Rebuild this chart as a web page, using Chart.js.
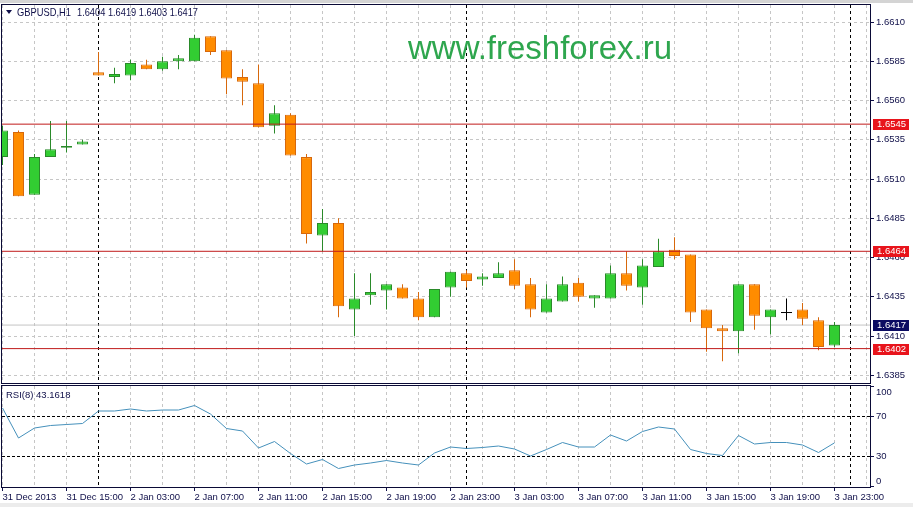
<!DOCTYPE html>
<html>
<head>
<meta charset="utf-8">
<title>GBPUSD,H1</title>
<script src="https://cdn.jsdelivr.net/npm/chart.js@4.4.1/dist/chart.umd.min.js"></script>
<style>
  html, body { margin: 0; padding: 0; background: #fff; }
  #wrap { position: relative; width: 913px; height: 507px; overflow: hidden; background: #fff; }
  #band-top { position: absolute; left: 0; top: 0; width: 913px; height: 3px; background: #d4d4d4; }
  #band-bot { position: absolute; left: 0; top: 503px; width: 913px; height: 4px; background: #ececec; }
  canvas { position: absolute; left: 0; }
  #main { top: 0; }
  #rsi { top: 385px; }
</style>
</head>
<body>
<div id="wrap">
  <div id="band-top"></div>
  <div id="band-bot"></div>
  <canvas id="main" width="913" height="385"></canvas>
  <canvas id="rsi" width="913" height="118"></canvas>
</div>
<script>
/* GBPUSD H1 candles with RSI(8) pane */
const symbol = "GBPUSD,H1";

// one label every 4 bars, first bar shows the date
const xTickLabels = ["31 Dec 2013", "31 Dec 15:00", "2 Jan 03:00", "2 Jan 07:00", "2 Jan 11:00",
  "2 Jan 15:00", "2 Jan 19:00", "2 Jan 23:00", "3 Jan 03:00", "3 Jan 07:00", "3 Jan 11:00",
  "3 Jan 15:00", "3 Jan 19:00", "3 Jan 23:00"];
const labelEvery = 4;

const priceTicks = [1.6385, 1.6410, 1.6435, 1.6460, 1.6485, 1.6510, 1.6535, 1.6560, 1.6585, 1.6610];
const levels = [1.6545, 1.6464, 1.6402];
const bid = 1.6417;
const daySeparators = [6, 29, 53];   // first bar of a new day

const rsiTicks = [0, 30, 70, 100];
const rsiLevels = [30, 70];

const open = [1.6524, 1.6540, 1.6500, 1.6524, 1.6530, 1.6532, 1.6578, 1.6575, 1.6576, 1.6583,
  1.6580, 1.6585, 1.6585, 1.6601, 1.6592, 1.6575, 1.6571, 1.6544, 1.6551, 1.6524,
  1.6474, 1.6482, 1.6427, 1.6436, 1.6439, 1.6441, 1.6434, 1.6422, 1.6441, 1.6450,
  1.6446, 1.6447, 1.6452, 1.6443, 1.6425, 1.6432, 1.6444, 1.6434, 1.6434, 1.6450,
  1.6441, 1.6454, 1.6465, 1.6462, 1.6427, 1.6415, 1.6413, 1.6443, 1.6422, 1.6425,
  1.6427, 1.6420, 1.6404];
const high = [1.6544, 1.6541, 1.6526, 1.6547, 1.6547, 1.6535, 1.6591, 1.6581, 1.6586, 1.6586,
  1.6588, 1.6589, 1.6602, 1.6601, 1.6592, 1.6580, 1.6583, 1.6557, 1.6552, 1.6526,
  1.6491, 1.6485, 1.6450, 1.6450, 1.6443, 1.6443, 1.6438, 1.6440, 1.6451, 1.6452,
  1.6450, 1.6457, 1.6459, 1.6447, 1.6443, 1.6448, 1.6447, 1.6436, 1.6455, 1.6464,
  1.6459, 1.6472, 1.6473, 1.6462, 1.6427, 1.6417, 1.6443, 1.6443, 1.6427, 1.6434,
  1.6431, 1.6422, 1.6419];
const low = [1.6519, 1.6499, 1.6500, 1.6524, 1.6527, 1.6532, 1.6576, 1.6571, 1.6573, 1.6580,
  1.6579, 1.6580, 1.6585, 1.6589, 1.6564, 1.6557, 1.6543, 1.6539, 1.6525, 1.6469,
  1.6464, 1.6422, 1.6410, 1.6430, 1.6427, 1.6434, 1.6420, 1.6422, 1.6435, 1.6441,
  1.6442, 1.6447, 1.6440, 1.6422, 1.6425, 1.6432, 1.6432, 1.6428, 1.6434, 1.6439,
  1.6430, 1.6454, 1.6459, 1.6419, 1.6400, 1.6394, 1.6399, 1.6414, 1.6411, 1.6420,
  1.6417, 1.6401, 1.6403];
const close = [1.6541, 1.6499, 1.6524, 1.6529, 1.6531, 1.6534, 1.6576, 1.6577, 1.6584, 1.6580,
  1.6585, 1.6587, 1.6600, 1.6591, 1.6574, 1.6572, 1.6543, 1.6552, 1.6525, 1.6475,
  1.6482, 1.6429, 1.6434, 1.6438, 1.6443, 1.6434, 1.6422, 1.6440, 1.6451, 1.6445,
  1.6448, 1.6450, 1.6442, 1.6427, 1.6434, 1.6443, 1.6435, 1.6436, 1.6450, 1.6442,
  1.6455, 1.6464, 1.6461, 1.6425, 1.6415, 1.6413, 1.6443, 1.6423, 1.6427, 1.6425,
  1.6421, 1.6403, 1.6417];
const rsi = [78, 48, 58, 60.5, 61.5, 62.5, 75, 75, 77, 75,
  76, 76, 80.5, 72, 57.5, 55, 38, 44.5, 32.5, 22,
  26.5, 17.5, 21, 23, 25.5, 23, 21, 33, 39, 37.5,
  38.5, 40, 37, 30, 36.5, 43.5, 39, 39, 51, 45,
  54.5, 59, 57, 36.5, 32.5, 30.5, 50.5, 42, 43.5, 43.5,
  41, 33.5, 43.1618];

const X_MIN = -0.03125, X_MAX = 54.21875;
const TEXT = "#10104a";
const GRID = "#c6c6c6";
const FRAME = "#0a0a36";
const UP_FILL = "#32cd32", UP_LINE = "#2a8a2a";
const DN_FILL = "#ff8c00", DN_LINE = "#d7680c";
const LEVEL = "#c01a1a";
const FONT = { family: "Liberation Sans", size: 9.5 };

const isUp = (i) => close[i] > open[i];
const isDoji = (i) => close[i] === open[i];
const edgeColor = (i) => (isDoji(i) ? "#000000" : isUp(i) ? UP_LINE : DN_LINE);
const gridBars = [];
for (let b = 0; b <= Math.floor(X_MAX); b += 2) gridBars.push(b);

const wickData = close.map((c, i) => ({ x: i, y: [low[i], high[i]] }));
const bodyData = close.map((c, i) => ({ x: i, y: [open[i], c] })).filter((d) => !isDoji(d.x));
const dojiData = close.map((c, i) => ({ x: i, y: c })).filter((d) => isDoji(d.x));

const gridAxis = {
  type: "linear", min: X_MIN, max: X_MAX, offset: false, position: "bottom",
  afterBuildTicks: (s) => { s.ticks = gridBars.map((v) => ({ value: v })); },
  afterFit: (s) => { s.height = 0; s.paddingLeft = 0; s.paddingRight = 0; },
  ticks: { display: false, autoSkip: false },
  grid: { color: GRID, drawTicks: false, offset: false },
  border: { display: false, dash: [3, 3] },
};

const frame = {
  id: "frame",
  beforeDatasetsDraw(chart) {
    const { ctx, chartArea: a } = chart;
    const x = chart.scales.x;
    ctx.save();
    ctx.strokeStyle = "#000";
    ctx.lineWidth = 1;
    ctx.setLineDash([3, 3]);
    daySeparators.forEach((b) => {
      const px = Math.round(x.getPixelForValue(b) - 0.5) + 0.5;
      ctx.beginPath();
      ctx.moveTo(px, a.top);
      ctx.lineTo(px, a.bottom);
      ctx.stroke();
    });
    ctx.restore();
  },
  afterDraw(chart) {
    const { ctx, chartArea: a } = chart;
    ctx.save();
    ctx.strokeStyle = FRAME;
    ctx.lineWidth = 1;
    ctx.strokeRect(a.left - 0.5, a.top - 0.5, a.right - a.left + 1, a.bottom - a.top + 1);
    ctx.restore();
  },
};

function axisBox(ctx, y, text, fill) {
  ctx.fillStyle = fill;
  ctx.fillRect(873, Math.round(y) - 5, 36, 11);
  ctx.fillStyle = "#fff";
  ctx.textBaseline = "middle";
  ctx.textAlign = "left";
  ctx.fillText(text, 877, Math.round(y) + 0.5);
}

const mainOverlay = {
  id: "mainOverlay",
  beforeDatasetsDraw(chart) {
    const { ctx } = chart;
    ctx.save();
    ctx.fillStyle = "#2ea64e";
    ctx.font = "33px 'Liberation Sans'";
    ctx.textBaseline = "alphabetic";
    ctx.fillText("www.freshforex.ru", 408, 59, 267);
    ctx.restore();
  },
  afterDraw(chart) {
    const { ctx } = chart;
    const y = chart.scales.y;
    const last = close.length - 1;
    ctx.save();
    // header
    ctx.fillStyle = TEXT;
    ctx.beginPath();
    ctx.moveTo(6, 10); ctx.lineTo(12, 10); ctx.lineTo(9, 14); ctx.closePath();
    ctx.fill();
    ctx.font = "10.5px 'Liberation Sans'";
    ctx.textBaseline = "middle";
    ctx.fillText(symbol, 17, 13, 54);
    const ohlc = [open[last], high[last], low[last], close[last]].map((v) => v.toFixed(4)).join(" ");
    ctx.fillText(ohlc, 77, 13, 121);
    // price marks on the axis
    ctx.font = "9.5px 'Liberation Sans'";
    levels.forEach((v) => axisBox(ctx, y.getPixelForValue(v), v.toFixed(4), "#e8141c"));
    axisBox(ctx, y.getPixelForValue(bid), bid.toFixed(4), "#0b0b62");
    ctx.restore();
  },
};

new Chart(document.getElementById("main"), {
  type: "bar",
  data: {
    datasets: [
      ...levels.map((v) => ({
        type: "line", data: [{ x: X_MIN, y: v }, { x: X_MAX, y: v }],
        borderColor: LEVEL, borderWidth: 1, pointRadius: 0, order: 0,
      })),
      {
        type: "line", data: dojiData, showLine: false, pointStyle: "line",
        pointRadius: 5.5, pointHoverRadius: 0, pointBorderColor: "#000", pointBorderWidth: 1, order: 1,
      },
      {
        data: bodyData, grouped: false, barThickness: 11, borderWidth: 1, borderSkipped: false,
        inflateAmount: 0,
        backgroundColor: bodyData.map((d) => (isUp(d.x) ? UP_FILL : DN_FILL)),
        borderColor: bodyData.map((d) => edgeColor(d.x)), order: 2,
      },
      {
        data: wickData, grouped: false, barThickness: 1, borderWidth: 0, inflateAmount: 0,
        backgroundColor: wickData.map((d) => edgeColor(d.x)), order: 3,
      },
      {
        type: "line", data: [{ x: X_MIN, y: bid }, { x: X_MAX, y: bid }],
        borderColor: "#c4c4c4", borderWidth: 1, pointRadius: 0, order: 4,
      },
    ],
  },
  options: {
    responsive: false, animation: false, events: [],
    layout: { autoPadding: false, padding: { left: 2, top: 5, right: 0, bottom: 2 } },
    plugins: { legend: { display: false }, tooltip: { enabled: false } },
    scales: {
      x: gridAxis,
      y: {
        position: "right", min: 1.63801, max: 1.66209, beginAtZero: false,
        afterBuildTicks: (s) => { s.ticks = priceTicks.map((v) => ({ value: v })); },
        afterFit: (s) => { s.width = 43; s.paddingTop = 0; s.paddingBottom = 0; },
        ticks: { color: TEXT, font: FONT, padding: 2, callback: (v) => Number(v).toFixed(4) },
        grid: { color: GRID, tickColor: TEXT, tickLength: 4, tickBorderDash: [] },
        border: { display: false, dash: [3, 3] },
      },
    },
  },
  plugins: [frame, mainOverlay],
});

const rsiOverlay = {
  id: "rsiOverlay",
  afterDraw(chart) {
    const { ctx, chartArea: a } = chart;
    const y = chart.scales.y;
    ctx.save();
    ctx.fillStyle = TEXT;
    ctx.font = "9.5px 'Liberation Sans'";
    ctx.textBaseline = "middle";
    ctx.fillText("RSI(8) " + rsi[rsi.length - 1].toFixed(4), 6, a.top + 9);
    rsiTicks.forEach((v) => {
      const py = Math.min(Math.max(y.getPixelForValue(v), a.top + 6), a.bottom - 6);
      ctx.fillText(String(v), a.right + 6, py);
    });
    ctx.restore();
  },
};

new Chart(document.getElementById("rsi"), {
  type: "line",
  data: {
    datasets: [{
      data: rsi.map((v, i) => ({ x: i, y: v })),
      borderColor: "#4590bb", borderWidth: 1, pointRadius: 0, pointHoverRadius: 0, tension: 0,
    }],
  },
  options: {
    responsive: false, animation: false, events: [],
    layout: { autoPadding: false, padding: { left: 2, top: 1, right: 0, bottom: 0 } },
    plugins: { legend: { display: false }, tooltip: { enabled: false } },
    scales: {
      x: {
        type: "linear", min: X_MIN, max: X_MAX, offset: false, position: "bottom",
        afterBuildTicks: (s) => { s.ticks = xTickLabels.map((t, k) => ({ value: k * labelEvery })); },
        afterFit: (s) => { s.height = 16; },
        ticks: {
          display: true, autoSkip: false, maxRotation: 0, minRotation: 0, align: "start",
          color: TEXT, font: FONT, padding: 1, callback: (v, k) => xTickLabels[k],
        },
        grid: { drawOnChartArea: false, drawTicks: true, tickLength: 4, tickColor: TEXT },
        border: { display: false },
      },
      xg: gridAxis,
      y: {
        position: "right", min: -1, max: 100,
        afterBuildTicks: (s) => { s.ticks = rsiTicks.map((v) => ({ value: v })); },
        afterFit: (s) => { s.width = 43; },
        ticks: { display: false },
        grid: {
          color: (c) => (c.tick && rsiLevels.includes(c.tick.value) ? "#000" : "rgba(0,0,0,0)"),
          tickColor: TEXT, tickLength: 4, tickBorderDash: [],
        },
        border: { display: false, dash: [3, 2] },
      },
    },
  },
  plugins: [frame, rsiOverlay],
});
</script>
</body>
</html>
